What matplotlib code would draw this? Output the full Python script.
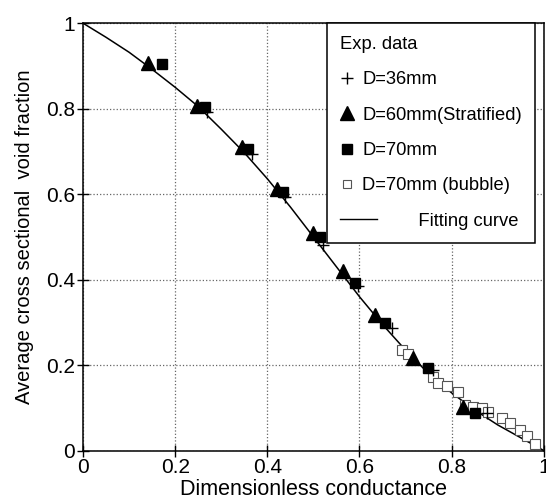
import matplotlib
matplotlib.use("Agg")
from matplotlib import pyplot as plt
from matplotlib.lines import Line2D
from matplotlib.legend_handler import HandlerLine2D

plt.rcParams['font.family'] = ['Liberation Sans', 'DejaVu Sans']

# fitting curve
fit_x = [0, 0.05, 0.1, 0.15, 0.2, 0.25, 0.3, 0.35, 0.4, 0.45, 0.5, 0.55, 0.6,
         0.65, 0.7, 0.75, 0.8, 0.85, 0.9, 0.95, 1.0]
fit_y = [1.0, 0.967, 0.932, 0.892, 0.85, 0.805, 0.752, 0.697, 0.636, 0.57, 0.5,
         0.43, 0.36, 0.295, 0.235, 0.18, 0.135, 0.095, 0.06, 0.03, 0.0]

# D=36mm
d36_x = [0.27, 0.366, 0.438, 0.52, 0.597, 0.67, 0.759, 0.876]
d36_y = [0.793, 0.694, 0.593, 0.482, 0.384, 0.287, 0.188, 0.089]

# D=60mm (stratified)
d60_x = [0.141, 0.247, 0.345, 0.42, 0.5, 0.564, 0.633, 0.716, 0.824]
d60_y = [0.906, 0.807, 0.711, 0.612, 0.51, 0.419, 0.318, 0.216, 0.101]

# D=70mm
d70_x = [0.171, 0.265, 0.358, 0.434, 0.514, 0.59, 0.655, 0.748, 0.85]
d70_y = [0.904, 0.805, 0.706, 0.605, 0.499, 0.393, 0.299, 0.193, 0.087]

# D=70mm (bubble)
bub_x = [0.692, 0.705, 0.759, 0.77, 0.79, 0.813, 0.829, 0.846, 0.866, 0.879,
         0.909, 0.926, 0.948, 0.963, 0.98]
bub_y = [0.235, 0.225, 0.172, 0.157, 0.15, 0.137, 0.106, 0.101, 0.099, 0.09,
         0.076, 0.064, 0.047, 0.035, 0.016]


class LongLine(HandlerLine2D):
    # legend line for the fitting curve is longer than the marker handles
    def create_artists(self, legend, orig_handle, xdescent, ydescent, width,
                       height, fontsize, trans):
        ln = Line2D([0, width * 2.5], [height / 2, height / 2], color='k', lw=1)
        ln.set_transform(trans)
        return [ln]


fig = plt.figure(figsize=(5.46, 5.04), dpi=100)
ax = fig.add_axes([0.152, 0.106, 0.844, 0.848])

ax.plot(fit_x, fit_y, color='k', lw=1.1, zorder=2)
ax.plot(bub_x, bub_y, 's', ms=7, mfc='white', mec='#555555', mew=0.8,
        linestyle='none', zorder=3)
ax.plot(d60_x, d60_y, '^', ms=10, color='k', linestyle='none', zorder=4)
ax.plot(d70_x, d70_y, 's', ms=7, color='k', linestyle='none', zorder=4)
ax.plot(d36_x, d36_y, '+', ms=9, mew=1.0, color='k', linestyle='none', zorder=5)

ax.set_xlim(0, 1)
ax.set_ylim(0, 1)
ax.set_xticks([0, 0.2, 0.4, 0.6, 0.8, 1])
ax.set_yticks([0, 0.2, 0.4, 0.6, 0.8, 1])
ax.set_xticklabels(['0', '0.2', '0.4', '0.6', '0.8', '1'])
ax.set_yticklabels(['0', '0.2', '0.4', '0.6', '0.8', '1'])
ax.tick_params(direction='inout', length=8, width=1, labelsize=15, pad=1.5)
ax.grid(True, linestyle=':', color='#666666', lw=0.9)
for s in ax.spines.values():
    s.set_linewidth(1.1)

ax.set_xlabel('Dimensionless conductance', fontsize=15.5, labelpad=1)
ax.set_ylabel('Average cross sectional  void fraction', fontsize=14.5,
              labelpad=9)

handles = [
    Line2D([], [], marker='+', ms=9, mew=1.0, color='k', linestyle='none'),
    Line2D([], [], marker='^', ms=10, color='k', linestyle='none'),
    Line2D([], [], marker='s', ms=7, color='k', linestyle='none'),
    Line2D([], [], marker='s', ms=6, mfc='white', mec='#555555', mew=0.8,
           linestyle='none'),
    Line2D([], [], color='k', lw=1),
]
labels = ['D=36mm', 'D=60mm(Stratified)', 'D=70mm', 'D=70mm (bubble)',
          '           Fitting curve']
leg = ax.legend(handles, labels, title='Exp. data', loc='upper right',
                bbox_to_anchor=(0.98, 1.0), borderaxespad=0, fontsize=13.2,
                title_fontsize=13.2, handlelength=0.8, handletextpad=0.4,
                labelspacing=1.0, borderpad=0.7, fancybox=False,
                framealpha=1, edgecolor='k', alignment='left',
                handler_map={handles[4]: LongLine()})
leg.get_frame().set_linewidth(1.1)

fig.savefig('out.png', dpi=100)
